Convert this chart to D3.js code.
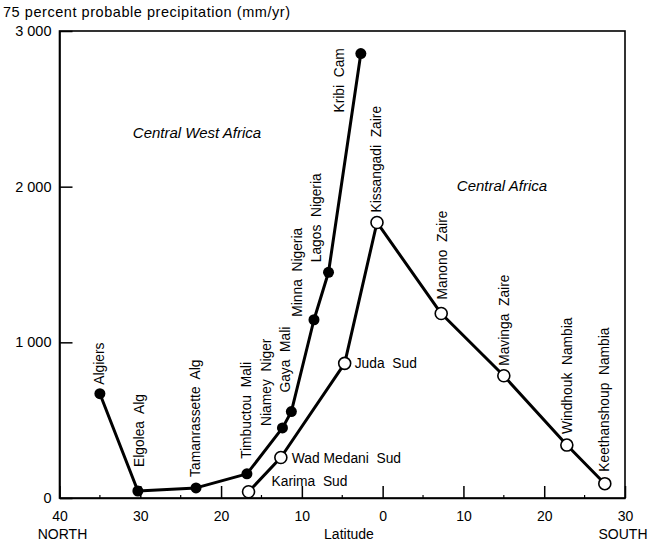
<!DOCTYPE html>
<html>
<head>
<meta charset="utf-8">
<script src="https://cdn.jsdelivr.net/npm/d3@7"></script>
<style>
  html, body { margin: 0; padding: 0; background: #fff; }
  svg { display: block; font-family: "Liberation Sans", Arial, Helvetica, sans-serif; }
  text { white-space: pre; fill: #000; }
</style>
</head>
<body>
<svg id="chart" width="654" height="546"></svg>
<script>
// ---- data (latitude: north positive, south negative; precipitation mm/yr)
const westNames = ["Algiers", "Elgolea  Alg", "Tamanrassette  Alg", "Timbuctou  Mali", "Niamey  Niger", "Gaya  Mali", "Minna  Nigeria", "Lagos  Nigeria", "Kribi  Cam"];
const westLat = [35.0, 30.3, 23.1, 16.8, 12.4, 11.3, 8.5, 6.7, 2.7];
const westPrecip = [670, 45, 65, 155, 450, 555, 1145, 1450, 2855];

const centralNames = ["Karima  Sud", "Wad Medani  Sud", "Juda  Sud", "Kissangadi  Zaire", "Manono  Zaire", "Mavinga  Zaire", "Windhouk  Nambia", "Keethanshoup  Nambia"];
const centralLat = [16.6, 12.6, 4.7, 0.7, -7.25, -15.0, -22.8, -27.5];
const centralPrecip = [40, 260, 865, 1770, 1185, 785, 340, 92];

const xTicks = [40, 30, 20, 10, 0, -10, -20, -30];
const xTickLabels = ["40", "30", "20", "10", "0", "10", "20", "30"];
const xMinorTicks = [35, 25, 15, 5, -5, -15, -25];
const yTicks = [0, 1000, 2000, 3000];
const yTickLabels = ["0", "1 000", "2 000", "3 000"];

// ---- label layout (annotation offsets, px)
// vertical labels: [dx of baseline from point, gap above point]
const westLabelOffsets = [[4, 9], [6, 24], [4, 11], [4, 15], [-11, 2], [-1, 19], [-12, 3], [-8, 10], [-17, -59]];
// central: first three are horizontal labels [dx, baseline dy], rest vertical
const centralLabelOffsets = [[23, -6], [11, 5], [10, 5], [4, 10], [6, 14], [5, 10], [5, 11], [4, 12]];
const centralHorizontal = [true, true, true, false, false, false, false, false];

const svg = d3.select("#chart");
const x = d3.scaleLinear().domain([40, -30]).range([59.5, 625]);
const y = d3.scaleLinear().domain([0, 3000]).range([498, 31]);

// frame
svg.append("rect")
  .attr("x", x(40)).attr("y", y(3000))
  .attr("width", x(-30) - x(40)).attr("height", y(0) - y(3000))
  .attr("fill", "none").attr("stroke", "#000").attr("stroke-width", 1.6);

// x axis
const xAxis = d3.axisBottom(x)
  .tickValues(xTicks)
  .tickFormat((d, i) => xTickLabels[i])
  .tickSizeInner(-12).tickSizeOuter(0).tickPadding(13);
const gx = svg.append("g").attr("transform", `translate(0,${y(0)})`).call(xAxis);
gx.select(".domain").attr("stroke-width", 1.6);
gx.selectAll(".tick line").attr("stroke-width", 1.5);
gx.selectAll(".tick text").attr("font-size", 14).attr("font-family", null);

// minor x ticks
svg.append("g").selectAll("line").data(xMinorTicks).join("line")
  .attr("x1", d => x(d)).attr("x2", d => x(d))
  .attr("y1", y(0)).attr("y2", y(0) - 3)
  .attr("stroke", "#000").attr("stroke-width", 1.2);

// y axis
const yAxis = d3.axisLeft(y)
  .tickValues(yTicks)
  .tickFormat((d, i) => yTickLabels[i])
  .tickSizeInner(-13).tickSizeOuter(0).tickPadding(8);
const gy = svg.append("g").attr("transform", `translate(${x(40)},0)`).call(yAxis);
gy.select(".domain").attr("stroke-width", 1.6);
gy.selectAll(".tick line").attr("stroke-width", 1.5);
gy.selectAll(".tick text").attr("font-size", 14.5).attr("font-family", null);

// axis titles
svg.append("text").attr("x", 3).attr("y", 17).attr("font-size", 14.5)
  .attr("textLength", 287).attr("lengthAdjust", "spacing")
  .text("75 percent probable precipitation (mm/yr)");
svg.append("text").attr("x", x(40) + 3).attr("y", 539).attr("font-size", 14)
  .attr("text-anchor", "middle").text("NORTH");
svg.append("text").attr("x", 349).attr("y", 539).attr("font-size", 14)
  .attr("text-anchor", "middle").text("Latitude");
svg.append("text").attr("x", x(-30) - 2).attr("y", 539).attr("font-size", 14)
  .attr("text-anchor", "middle").text("SOUTH");

// region labels
svg.append("text").attr("x", 197).attr("y", 138).attr("font-size", 15)
  .attr("font-style", "italic").attr("text-anchor", "middle").text("Central West Africa");
svg.append("text").attr("x", 502).attr("y", 191).attr("font-size", 15)
  .attr("font-style", "italic").attr("text-anchor", "middle").text("Central Africa");

const line = d3.line().x(d => x(d[0])).y(d => y(d[1]));
const west = westLat.map((d, i) => [d, westPrecip[i]]);
const central = centralLat.map((d, i) => [d, centralPrecip[i]]);

svg.append("path").datum(west).attr("d", line)
  .attr("fill", "none").attr("stroke", "#000").attr("stroke-width", 3).attr("stroke-linejoin", "round");
svg.append("path").datum(central).attr("d", line)
  .attr("fill", "none").attr("stroke", "#000").attr("stroke-width", 3).attr("stroke-linejoin", "round");

svg.append("g").selectAll("circle").data(west).join("circle")
  .attr("cx", d => x(d[0])).attr("cy", d => y(d[1])).attr("r", 5.5).attr("fill", "#000");
svg.append("g").selectAll("circle").data(central).join("circle")
  .attr("cx", d => x(d[0])).attr("cy", d => y(d[1])).attr("r", 6)
  .attr("fill", "#fff").attr("stroke", "#000").attr("stroke-width", 1.6);

// point labels
const fs = 13.8;
svg.append("g").selectAll("text").data(west).join("text")
  .attr("font-size", fs)
  .attr("transform", (d, i) => `translate(${x(d[0]) + westLabelOffsets[i][0]},${y(d[1]) - westLabelOffsets[i][1]}) rotate(-90)`)
  .text((d, i) => westNames[i]);

svg.append("g").selectAll("text").data(central).join("text")
  .attr("font-size", fs)
  .attr("transform", (d, i) => centralHorizontal[i]
    ? `translate(${x(d[0]) + centralLabelOffsets[i][0]},${y(d[1]) + centralLabelOffsets[i][1]})`
    : `translate(${x(d[0]) + centralLabelOffsets[i][0]},${y(d[1]) - centralLabelOffsets[i][1]}) rotate(-90)`)
  .text((d, i) => centralNames[i]);
</script>
</body>
</html>
